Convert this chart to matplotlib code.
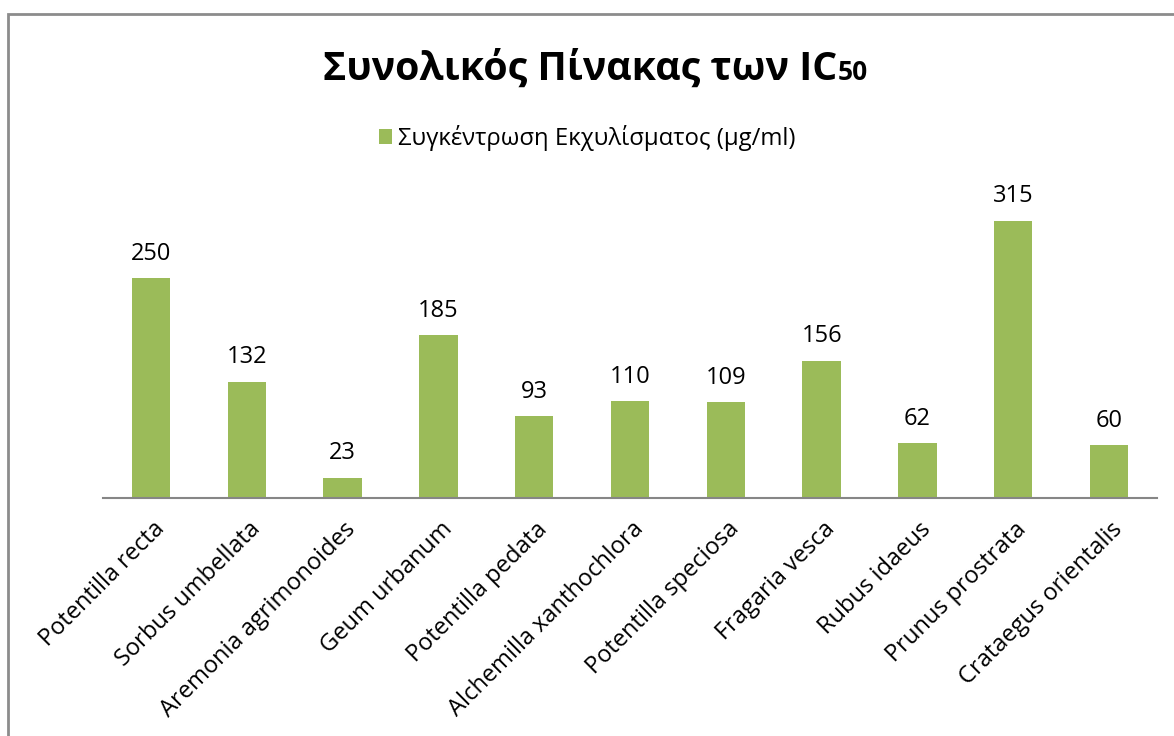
import matplotlib
matplotlib.use('Agg')
import matplotlib.pyplot as plt
from matplotlib.patches import Rectangle
from matplotlib.transforms import ScaledTranslation

plt.rcParams['font.family'] = ['Open Sans', 'DejaVu Sans']

# data
species = ['Potentilla recta', 'Sorbus umbellata', 'Aremonia agrimonoides', 'Geum urbanum',
           'Potentilla pedata', 'Alchemilla xanthochlora', 'Potentilla speciosa', 'Fragaria vesca',
           'Rubus idaeus', 'Prunus prostrata', 'Crataegus orientalis']
ic50 = [250, 132, 23, 185, 93, 110, 109, 156, 62, 315, 60]
series_name = 'Συγκέντρωση Εκχυλίσματος (μg/ml)'

W, H = 1174, 736
fig = plt.figure(figsize=(W / 100, H / 100), dpi=100)

# gray frame of the chart area (right/bottom edges outside the picture)
fig.patches.append(Rectangle((8 / W, -0.1), 1.2, 1 - 14 / H + 0.1, transform=fig.transFigure,
                             fill=False, edgecolor='#8c8c8c', linewidth=2))

ax = fig.add_axes([103 / W, (H - 498) / H, (1157 - 103) / W, (498 - 190) / H])
x = range(len(species))
bars = ax.bar(x, ic50, width=0.4, color='#9BBB59', label=series_name)
ax.set_xlim(-0.5, len(species) - 0.5)
ax.set_ylim(0, 350)

for s in ['top', 'right', 'left']:
    ax.spines[s].set_visible(False)
ax.spines['bottom'].set_color('#868686')
ax.spines['bottom'].set_linewidth(1.5)
ax.set_yticks([])
ax.set_xticks(list(x))
ax.set_xticklabels(species, rotation=45, ha='right', va='center', rotation_mode='anchor',
                   fontsize=17)
ax.tick_params(axis='x', length=0, pad=20)
shift = ScaledTranslation(10 / 100, 0, fig.dpi_scale_trans)
for lbl in ax.get_xticklabels():
    lbl.set_transform(lbl.get_transform() + shift)

for b, v in zip(bars, ic50):
    ax.annotate(str(v), (b.get_x() + b.get_width() / 2, v), xytext=(0, 9),
                textcoords='offset points', ha='center', va='bottom', fontsize=17)

ax.legend(loc='center', bbox_to_anchor=(0.5, 1 - 138 / H), bbox_transform=fig.transFigure,
          frameon=False, fontsize=17.2, handlelength=0.55, handleheight=0.55, handletextpad=0.25)

# title with smaller "50"
fig.canvas.draw()
r = fig.canvas.get_renderer()
ty = 1 - 80 / H
t1 = fig.text(0, ty, 'Συνολικός Πίνακας των IC', fontsize=28.3, fontweight='bold', va='baseline')
t2 = fig.text(0, ty, '50', fontsize=19, fontweight='bold', va='baseline')
w1 = t1.get_window_extent(r).width
w2 = t2.get_window_extent(r).width
x0 = 595 - (w1 + w2) / 2
t1.set_x(x0 / W)
t2.set_x((x0 + w1 + 1) / W)

fig.savefig('out.png', dpi=100)
